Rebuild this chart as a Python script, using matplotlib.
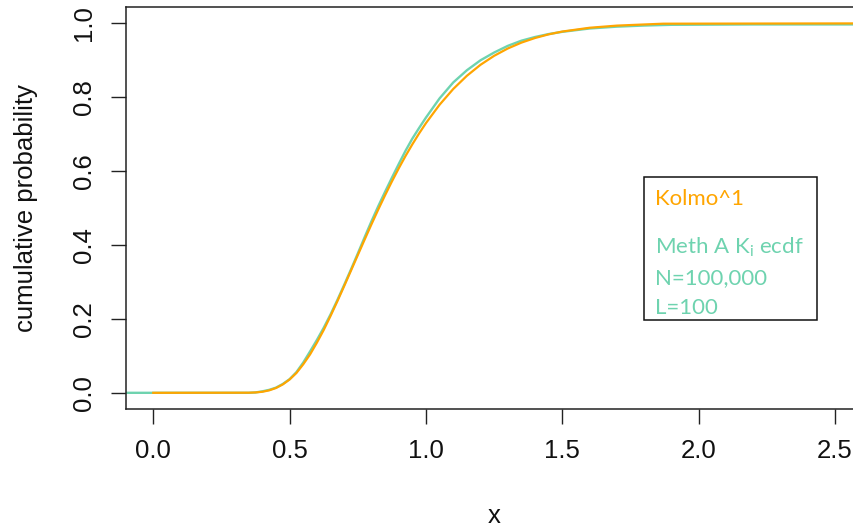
import matplotlib
matplotlib.use('Agg')
import matplotlib.pyplot as plt
from matplotlib.patches import Rectangle

kolmo_x = [0.0, 0.35, 0.375, 0.40, 0.425, 0.45, 0.475, 0.50, 0.525, 0.55, 0.575,
           0.60, 0.625, 0.65, 0.675, 0.70, 0.725, 0.75, 0.775, 0.80, 0.825, 0.85,
           0.875, 0.90, 0.925, 0.95, 0.975, 1.00, 1.05, 1.10, 1.15, 1.20, 1.25,
           1.30, 1.35, 1.40, 1.45, 1.50, 1.60, 1.70, 1.80, 1.87, 2.80]
kolmo_y = [0.0, 0.0003, 0.0010, 0.0028, 0.0066, 0.0130, 0.0227, 0.0361, 0.0537,
           0.0772, 0.1040, 0.1357, 0.1700, 0.2080, 0.2477, 0.2888, 0.3307, 0.3728,
           0.4146, 0.4559, 0.4960, 0.5347, 0.5719, 0.6073, 0.6410, 0.6725, 0.7022,
           0.7300, 0.7798, 0.8223, 0.8580, 0.8878, 0.9121, 0.9319, 0.9478, 0.9603,
           0.9702, 0.9778, 0.9880, 0.9938, 0.9969, 0.9990, 1.0]

# empirical cdf of the simulated K values (method A)
ecdf_x = [-0.3, 0.35, 0.375, 0.40, 0.425, 0.45, 0.475, 0.50, 0.525, 0.55, 0.575,
          0.60, 0.625, 0.65, 0.675, 0.70, 0.725, 0.75, 0.775, 0.80, 0.825, 0.85,
          0.875, 0.90, 0.925, 0.95, 0.975, 1.00, 1.05, 1.10, 1.15, 1.20, 1.25,
          1.30, 1.35, 1.40, 1.45, 1.50, 1.60, 1.70, 1.80, 1.90, 2.20, 2.80]
ecdf_y = [0.0, 0.0, 0.001, 0.004, 0.008, 0.014, 0.024, 0.037, 0.056, 0.082, 0.112,
          0.143, 0.176, 0.212, 0.251, 0.292, 0.334, 0.377, 0.421, 0.464, 0.505,
          0.544, 0.582, 0.619, 0.655, 0.688, 0.717, 0.745, 0.797, 0.840, 0.873,
          0.900, 0.921, 0.939, 0.953, 0.963, 0.971, 0.977, 0.986, 0.991, 0.994,
          0.996, 0.997, 0.997]

x_ticks = [0.0, 0.5, 1.0, 1.5, 2.0, 2.5]
y_ticks = [0.0, 0.2, 0.4, 0.6, 0.8, 1.0]

orange = '#FFA500'
aqua = '#6ED3AF'
dark = '#222222'

plt.rcParams['font.family'] = ['Liberation Sans', 'DejaVu Sans']

fig = plt.figure(figsize=(8.54, 5.31), dpi=100)
W, H = 854, 531
ax = fig.add_axes([126 / W, (H - 408.7) / H, 736.3 / W, 402.0 / H])

ax.plot(ecdf_x, ecdf_y, color=aqua, lw=1.7, solid_joinstyle='miter')
ax.plot(kolmo_x, kolmo_y, color=orange, lw=1.6)

ax.set_xlim(-0.1, 2.6)
ax.set_ylim(-0.043, 1.045)
ax.set_xticks(x_ticks)
ax.set_xticklabels(['%.1f' % v for v in x_ticks])
ax.set_yticks(y_ticks)
ax.set_yticklabels(['%.1f' % v for v in y_ticks])
for lab in ax.get_yticklabels():
    lab.set_rotation(90)
    lab.set_va('center')
for s in ax.spines.values():
    s.set_color(dark)
    s.set_linewidth(1.1)
ax.tick_params(length=10.5, width=1.0, color=dark, labelsize=18.5,
               labelcolor='#111111', pad=11)

fig.text(494 / W, 1 - 516 / H, 'x', ha='center', va='center', fontsize=18.5,
         color='#111111')
fig.text(26 / W, 1 - 207.7 / H, 'cumulative probability', rotation=90,
         ha='center', va='center', fontsize=18.5, color='#111111')

# legend box with hand-placed lines
fig.add_artist(Rectangle((644 / W, 1 - 320 / H), 172.7 / W, 142.7 / H,
                         transform=fig.transFigure, fill=False, ec='#111111', lw=1.1))
leg_font = dict(family=['Lato', 'DejaVu Sans'], fontsize=16, ha='left', va='baseline')
fig.text(655 / W, 1 - 205 / H, 'Kolmo^1', color=orange, **leg_font)
fig.text(655 / W, 1 - 253 / H, r'Meth A K$_{\mathregular{i}}$ ecdf', color=aqua, **leg_font)
fig.text(655 / W, 1 - 284 / H, 'N=100,000', color=aqua, **leg_font)
fig.text(655 / W, 1 - 314 / H, 'L=100', color=aqua, **leg_font)

fig.savefig('out.png', dpi=100)
